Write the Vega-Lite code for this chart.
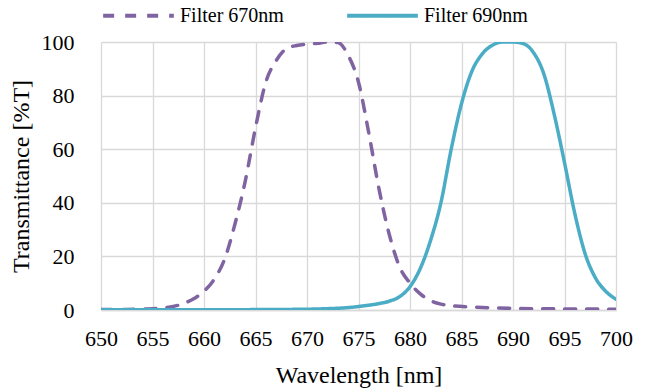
{
  "$schema": "https://vega.github.io/schema/vega-lite/v6.json",
  "width": 515,
  "height": 268,
  "autosize": "none",
  "padding": {"left": 101, "top": 42, "right": 33, "bottom": 82},
  "config": {
    "font": "Liberation Serif",
    "view": {"stroke": null}
  },
  "datasets": {
    "a": [
      {"wl": 650, "T": 0.2}, {"wl": 652, "T": 0.2}, {"wl": 654, "T": 0.3}, {"wl": 655, "T": 0.5},
      {"wl": 656, "T": 0.8}, {"wl": 657, "T": 1.3}, {"wl": 658, "T": 2.4}, {"wl": 659, "T": 4.2},
      {"wl": 660, "T": 7}, {"wl": 661, "T": 11.5}, {"wl": 662, "T": 19}, {"wl": 663, "T": 32},
      {"wl": 664, "T": 48}, {"wl": 665, "T": 68}, {"wl": 666, "T": 85}, {"wl": 667, "T": 93},
      {"wl": 668, "T": 97.5}, {"wl": 669, "T": 98.7}, {"wl": 670, "T": 99.2}, {"wl": 671, "T": 99.5},
      {"wl": 672, "T": 100}, {"wl": 673, "T": 99.8}, {"wl": 674, "T": 95}, {"wl": 675, "T": 85},
      {"wl": 676, "T": 66}, {"wl": 677, "T": 45}, {"wl": 678, "T": 28}, {"wl": 679, "T": 16},
      {"wl": 680, "T": 10}, {"wl": 681, "T": 6}, {"wl": 682, "T": 3.5}, {"wl": 683, "T": 2.2},
      {"wl": 684, "T": 1.6}, {"wl": 686, "T": 1.1}, {"wl": 690, "T": 0.6}, {"wl": 695, "T": 0.4},
      {"wl": 700, "T": 0.3}
    ],
    "b": [
      {"wl": 650, "T": 0.1}, {"wl": 660, "T": 0.1}, {"wl": 665, "T": 0.15}, {"wl": 670, "T": 0.3},
      {"wl": 672, "T": 0.5}, {"wl": 674, "T": 0.9}, {"wl": 675, "T": 1.3}, {"wl": 676, "T": 1.8},
      {"wl": 677, "T": 2.4}, {"wl": 678, "T": 3.3}, {"wl": 679, "T": 5}, {"wl": 680, "T": 8.7},
      {"wl": 681, "T": 15.5}, {"wl": 682, "T": 26}, {"wl": 683, "T": 40}, {"wl": 684, "T": 60},
      {"wl": 685, "T": 77}, {"wl": 686, "T": 89}, {"wl": 687, "T": 95.5}, {"wl": 688, "T": 98.8},
      {"wl": 689, "T": 100}, {"wl": 690, "T": 100}, {"wl": 691, "T": 99.4}, {"wl": 692, "T": 96},
      {"wl": 693, "T": 88}, {"wl": 694, "T": 73}, {"wl": 695, "T": 55}, {"wl": 696, "T": 36},
      {"wl": 697, "T": 21}, {"wl": 698, "T": 12}, {"wl": 699, "T": 7}, {"wl": 700, "T": 4}
    ]
  },
  "layer": [
    {
      "data": {"name": "a"},
      "transform": [{"calculate": "'Filter 670nm'", "as": "series"}],
      "mark": {"type": "line", "interpolate": "monotone", "strokeWidth": 3.5, "strokeCap": "round", "clip": true},
      "encoding": {
        "x": {"field": "wl", "type": "quantitative"},
        "y": {"field": "T", "type": "quantitative"},
        "color": {"field": "series", "type": "nominal"},
        "strokeDash": {"field": "series", "type": "nominal"}
      }
    },
    {
      "data": {"name": "b"},
      "transform": [{"calculate": "'Filter 690nm'", "as": "series"}],
      "mark": {"type": "line", "interpolate": "monotone", "strokeWidth": 3.5, "strokeCap": "round", "clip": true},
      "encoding": {
        "x": {"field": "wl", "type": "quantitative"},
        "y": {"field": "T", "type": "quantitative"},
        "color": {"field": "series", "type": "nominal"},
        "strokeDash": {"field": "series", "type": "nominal"}
      }
    }
  ],
  "resolve": {"scale": {"color": "shared", "strokeDash": "shared"}},
  "encoding": {
    "x": {
      "field": "wl", "type": "quantitative",
      "scale": {"domain": [650, 700], "nice": false},
      "axis": {
        "title": "Wavelength [nm]", "values": [650,655,660,665,670,675,680,685,690,695,700],
        "grid": true, "gridColor": "#d9d9d9", "gridWidth": 1.3,
        "domain": true, "domainColor": "#d9d9d9", "domainWidth": 1.3, "ticks": false,
        "labelFontSize": 22, "labelColor": "#000", "labelPadding": 18, "labelFlush": false,
        "titleFontSize": 24, "titleFontWeight": "normal", "titleColor": "#000", "titlePadding": 14
      }
    },
    "y": {
      "field": "T", "type": "quantitative",
      "scale": {"domain": [0, 100], "nice": false},
      "axis": {
        "title": "Transmittance [%T]", "values": [0,20,40,60,80,100],
        "grid": true, "gridColor": "#d9d9d9", "gridWidth": 1.3,
        "domain": false, "ticks": false,
        "labelFontSize": 22, "labelColor": "#000", "labelPadding": 27,
        "titleFontSize": 24, "titleFontWeight": "normal", "titleColor": "#000", "titlePadding": 8
      }
    },
    "color": {
      "field": "series", "type": "nominal",
      "scale": {"domain": ["Filter 670nm", "Filter 690nm"], "range": ["#8064A2", "#4BACC6"]},
      "legend": {
        "orient": "top", "offset": 16, "direction": "horizontal",
        "title": null, "symbolType": "stroke", "symbolSize": 5000, "symbolStrokeWidth": 4,
        "labelFontSize": 20, "labelColor": "#000", "columnPadding": 55, "labelOffset": 4
      }
    },
    "strokeDash": {
      "field": "series", "type": "nominal",
      "scale": {"domain": ["Filter 670nm", "Filter 690nm"], "range": [[11, 11], [1, 0]]},
      "legend": null
    }
  }
}
